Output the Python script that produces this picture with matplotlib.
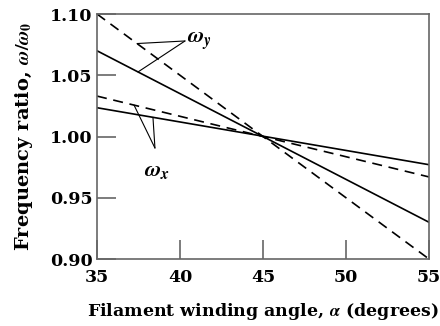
import numpy as np
import matplotlib
matplotlib.use("Agg")
import matplotlib.pyplot as plt

# winding angle (degrees) at the two ends of each line
alpha = [35, 55]
wy_solid = [1.070, 0.930]
wy_dash = [1.100, 0.900]
wx_dash = [1.033, 0.967]
wx_solid = [1.0235, 0.977]

xticks = [35, 40, 45, 50, 55]
yticks = [0.90, 0.95, 1.00, 1.05, 1.10]

plt.rcParams['font.family'] = 'DejaVu Serif'
plt.rcParams['font.weight'] = 'bold'
plt.rcParams['axes.labelweight'] = 'bold'
plt.rcParams['mathtext.fontset'] = 'stix'

fig = plt.figure(figsize=(4.4, 3.26), dpi=100)
ax = fig.add_axes([0.2205, 0.2055, 0.7545, 0.7515])

ax.plot(alpha, wy_dash, color='black', lw=1.2, ls=(0, (6, 4)))
ax.plot(alpha, wy_solid, color='black', lw=1.2)
ax.plot(alpha, wx_dash, color='black', lw=1.2, ls=(0, (6, 4)))
ax.plot(alpha, wx_solid, color='black', lw=1.2)

# leader lines to the labels
lp = dict(arrowstyle='-', color='black', lw=0.8, shrinkA=0, shrinkB=0)
apex_y = (40.3, 1.078)
for a, s in [(37.41, wy_dash), (37.47, wy_solid)]:
    ax.annotate('', xy=(a, np.interp(a, alpha, s)), xytext=apex_y, arrowprops=lp)
ax.text(40.45, 1.077, r'$\omega_y$', fontsize=16, ha='left', va='center')

apex_x = (38.49, 0.9906)
for a, s in [(37.23, wx_dash), (38.37, wx_solid)]:
    ax.annotate('', xy=(a, np.interp(a, alpha, s)), xytext=apex_x, arrowprops=lp)
ax.text(38.6, 0.973, r'$\omega_x$', fontsize=16, ha='center', va='center')

ax.set_xlim(35, 55)
ax.set_ylim(0.90, 1.10)
ax.set_xticks(xticks)
ax.set_yticks(yticks)
ax.set_yticklabels(['%.2f' % v for v in yticks])
ax.tick_params(direction='in', length=14, width=1.2, color='#666666',
               labelsize=12.5)
ax.tick_params(axis='x', pad=7)
ax.tick_params(axis='y', pad=3)
for sp in ax.spines.values():
    sp.set_color('#666666')
    sp.set_linewidth(1.2)

ax.set_xlabel(r'Filament winding angle, $\alpha$ (degrees)', fontsize=12.5, labelpad=11)
ax.set_ylabel(r'Frequency ratio, $\omega/\omega_0$', fontsize=14, labelpad=11)

fig.savefig('out.png', dpi=100)
